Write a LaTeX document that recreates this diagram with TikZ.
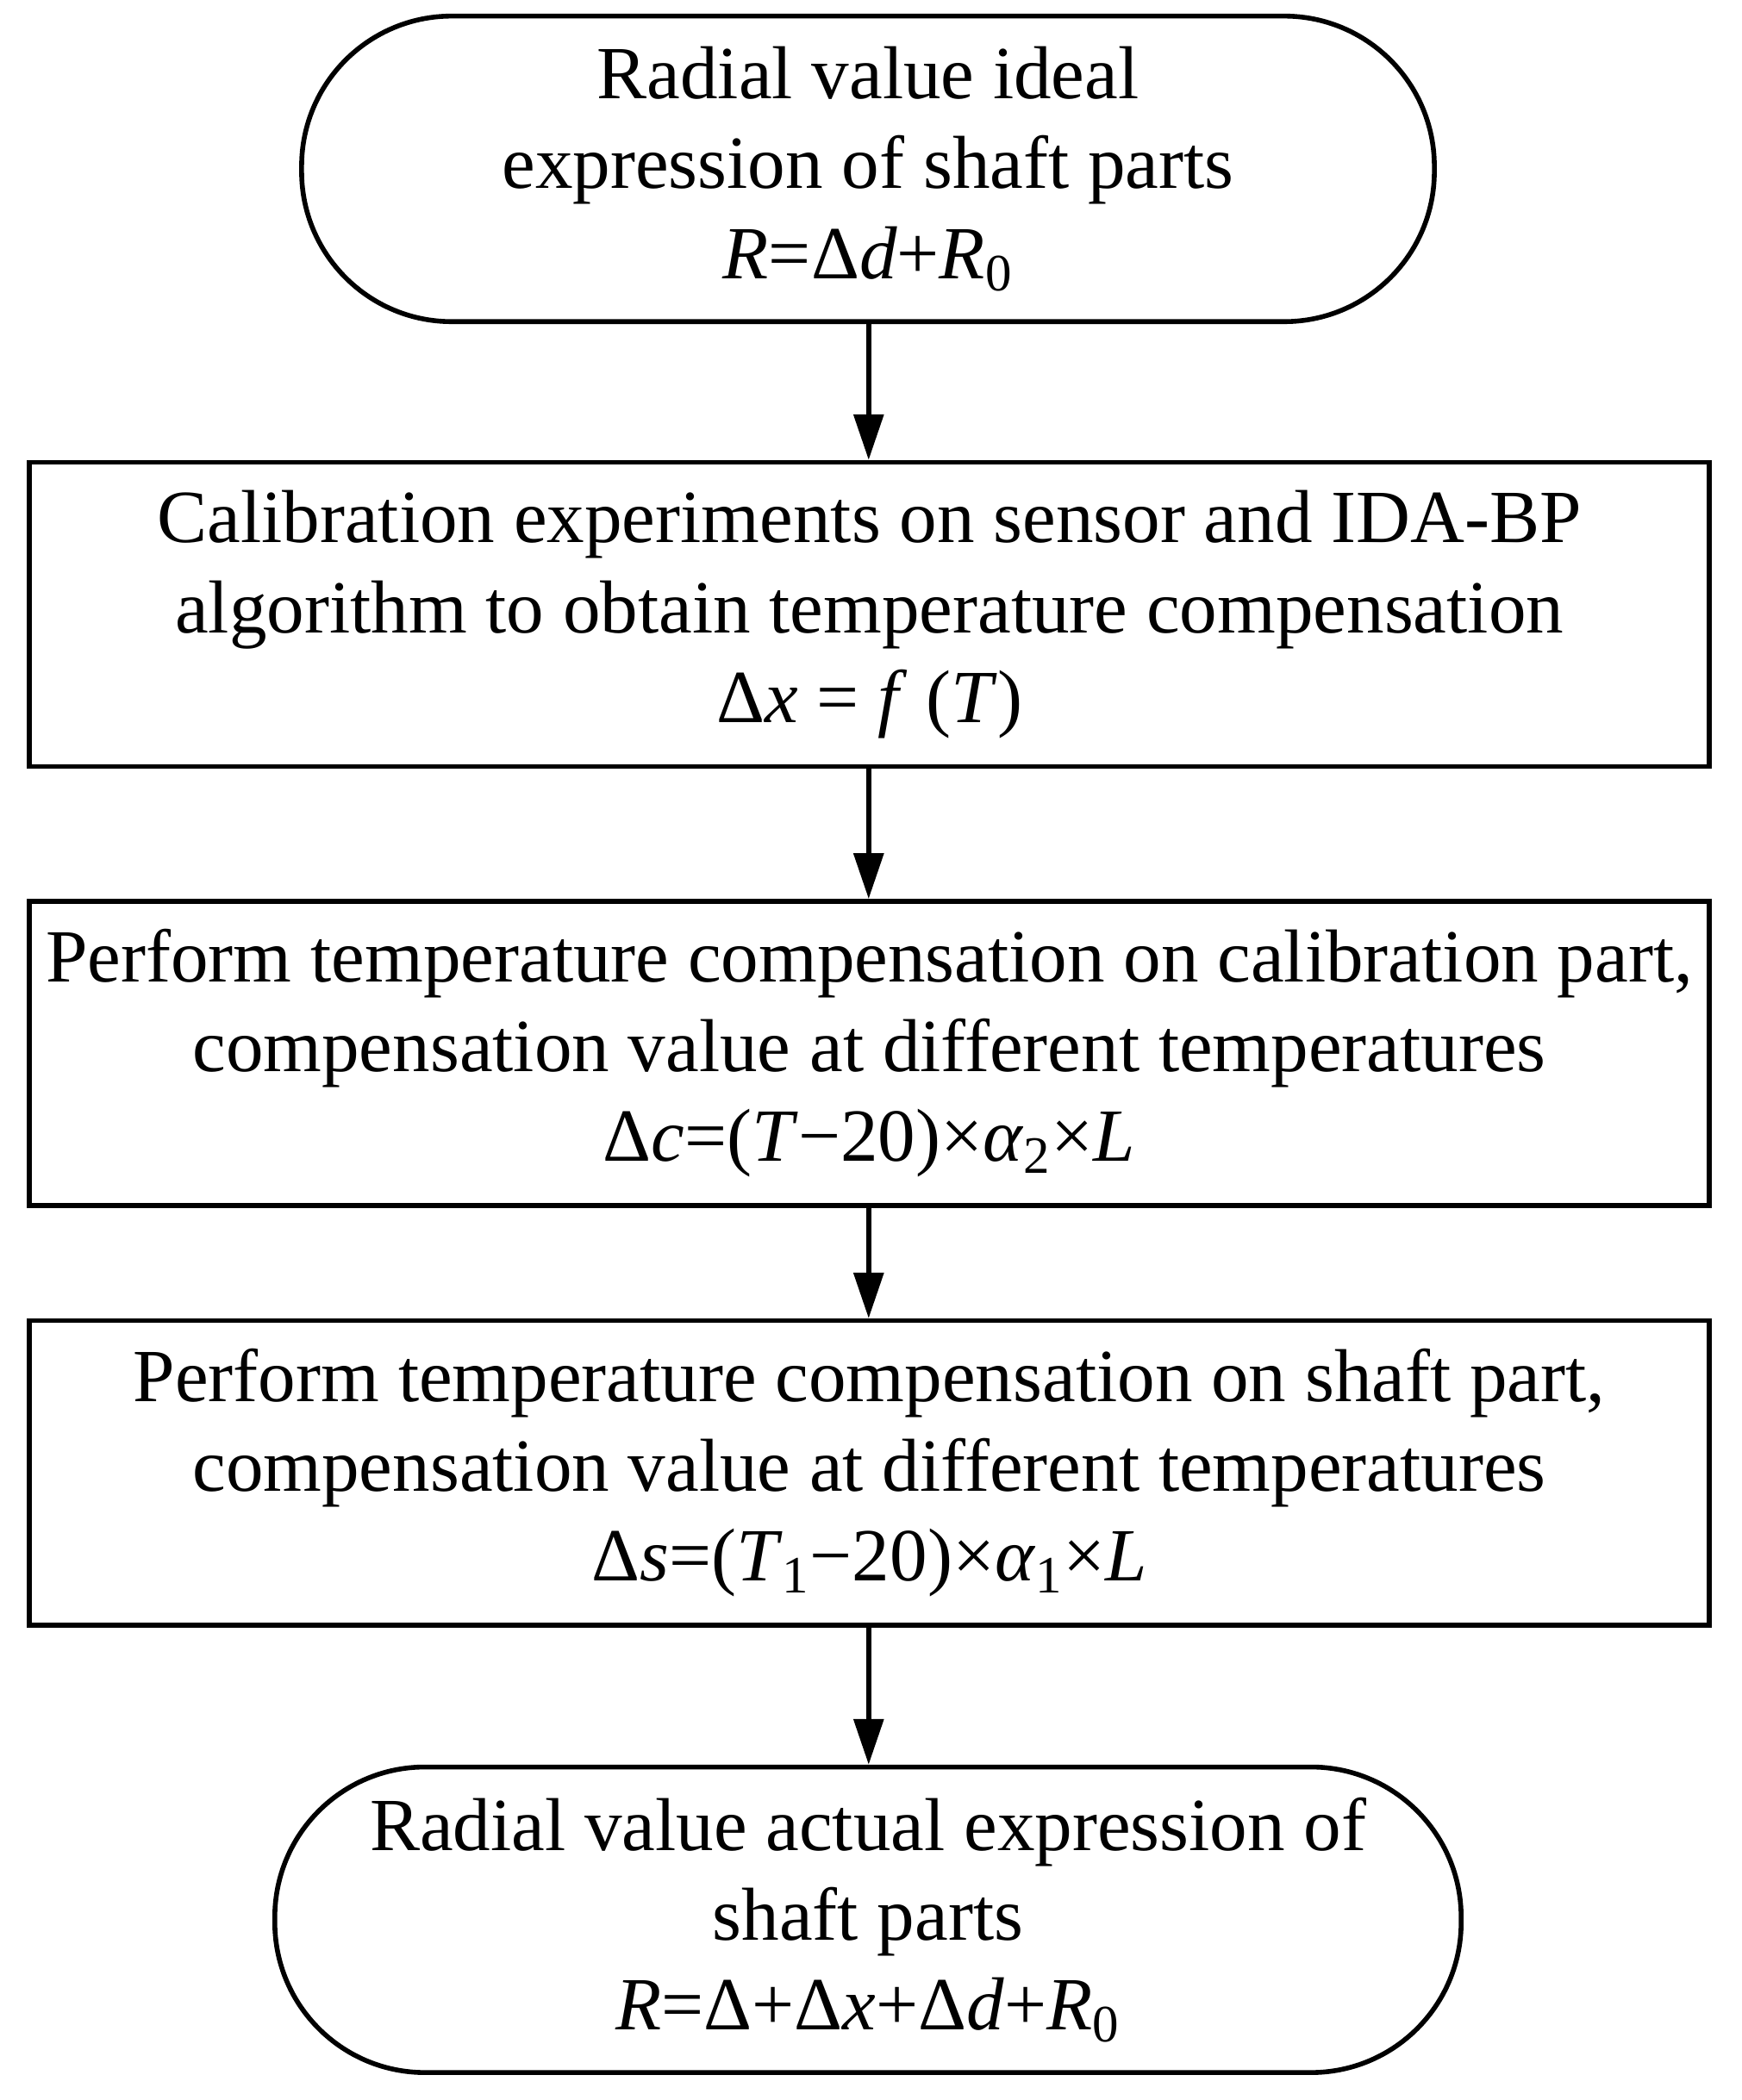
\documentclass[tikz,border=0pt]{standalone}
\usepackage{fontspec}
\setmainfont{Liberation Serif}
\usetikzlibrary{arrows.meta}
\begin{document}
\begin{tikzpicture}[x=0.5pt,y=-0.5pt,
  every node/.style={font=\fontsize{28}{33.5}\selectfont, align=center, inner sep=0pt, draw, line width=1.8pt},
  proc/.style={minimum width=626.5pt, minimum height=113.5pt},
  term/.style={rounded corners=56pt, minimum height=114pt},
  arr/.style={line width=1.8pt, -{Triangle[length=17pt,width=11pt]}}]
\useasboundingbox (0,0) rectangle (1299,1567);
\node[term, minimum width=422.5pt] (t1) at (647.5,126) {Radial value ideal\\expression of shaft parts\\\textit{R}=Δ\textit{d}+\textit{R}\textsubscript{0}};
\node[proc] (b1) at (648.5,458.5) {Calibration experiments on sensor and IDA-BP\\algorithm to obtain temperature compensation\\Δ\textit{x} = \textit{f} (\textit{T})};
\node[proc] (b2) at (648.5,786) {Perform temperature compensation on calibration part,\\compensation value at different temperatures\\Δ\textit{c}=(\textit{T}−20)×\textit{α}\textsubscript{2}×\textit{L}};
\node[proc] (b3) at (648.5,1099) {Perform temperature compensation on shaft part,\\compensation value at different temperatures\\Δ\textit{s}=(\textit{T}\textsubscript{1}−20)×\textit{α}\textsubscript{1}×\textit{L}};
\node[term, minimum width=442.5pt] (t2) at (647.5,1432.5) {Radial value actual expression of\\shaft parts\\\textit{R}=Δ+Δ\textit{x}+Δ\textit{d}+\textit{R}\textsubscript{0}};
\draw[arr] (t1.south -| 648,0) -- (b1.north -| 648,0);
\draw[arr] (b1.south -| 648,0) -- (b2.north -| 648,0);
\draw[arr] (b2.south -| 648,0) -- (b3.north -| 648,0);
\draw[arr] (b3.south -| 648,0) -- (t2.north -| 648,0);
\end{tikzpicture}
\end{document}
